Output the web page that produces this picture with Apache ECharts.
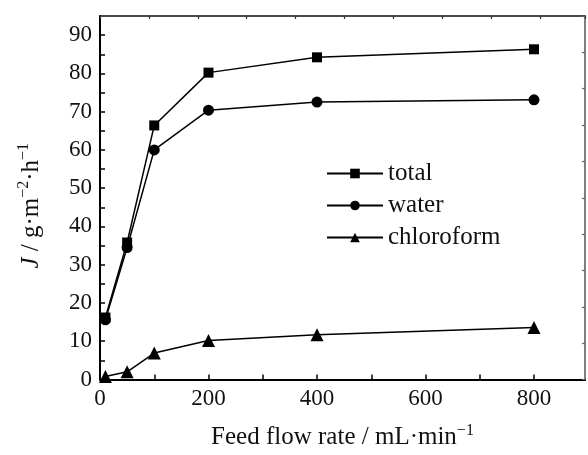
<!DOCTYPE html>
<html>
<head>
<meta charset="utf-8">
<script src="https://cdn.jsdelivr.net/npm/echarts@6/dist/echarts.min.js"></script>
<style>
  html, body { margin: 0; padding: 0; background: #fff; }
  #chart { width: 588px; height: 455px; }
</style>
</head>
<body>
<div id="chart"></div>
<script>
// Permeate flux versus feed flow rate
const flowRates = [10, 50, 100, 200, 400, 800];
const totalFlux = [16.2, 35.8, 66.4, 80.2, 84.2, 86.3];
const waterFlux = [15.6, 34.5, 60.0, 70.4, 72.5, 73.1];
const chloroformFlux = [0.8, 2.0, 6.9, 10.2, 11.7, 13.6];
const seriesNames = ['total', 'water', 'chloroform'];
const xTickLabels = [0, 200, 400, 600, 800];
const yTickLabels = [0, 10, 20, 30, 40, 50, 60, 70, 80, 90];

const FONT = 'Liberation Serif';
const INK = '#111';

const toPairs = (ys) => flowRates.map((x, i) => [x, ys[i]]);

const lineSeries = (name, values, symbol, size) => ({
  name,
  type: 'line',
  data: toPairs(values),
  symbol,
  symbolSize: size,
  showSymbol: true,
  xAxisIndex: 0,
  yAxisIndex: 0,
  lineStyle: { color: '#000', width: 1.5 },
  itemStyle: { color: '#000', borderWidth: 0 },
  emphasis: { disabled: true },
  animation: false
});

const chart = echarts.init(document.getElementById('chart'));
chart.setOption({
  backgroundColor: '#fff',
  animation: false,
  grid: { left: 100, right: 3, top: 16, bottom: 69 },
  legend: {
    orient: 'vertical',
    left: 326,
    top: 161,
    padding: 0,
    itemWidth: 56,
    itemHeight: 12,
    itemGap: 7,
    data: seriesNames,
    textStyle: { fontFamily: FONT, fontSize: 25, color: INK, lineHeight: 25 },
    selectedMode: false
  },
  xAxis: [
    {
      type: 'value',
      position: 'bottom',
      min: 0,
      max: 894,
      interval: 100,
      axisLine: { show: true, onZero: false, lineStyle: { color: '#000', width: 2 } },
      axisTick: { show: true, inside: true, length: 5, lineStyle: { color: '#000', width: 1.5 } },
      axisLabel: {
        show: true,
        margin: 8,
        showMaxLabel: false,
        fontFamily: FONT,
        fontSize: 23,
        color: INK,
        formatter: (v) => (xTickLabels.includes(v) ? String(v) : '')
      },
      splitLine: { show: false },
      name: 'Feed flow rate / mL·min{sup|−1}',
      nameLocation: 'middle',
      nameGap: 43,
      nameTextStyle: {
        fontFamily: FONT,
        fontSize: 25,
        color: INK,
        rich: {
          sup: { fontFamily: FONT, fontSize: 16, color: INK, padding: [0, 0, 14, 0] }
        }
      }
    },
    {
      type: 'value',
      position: 'top',
      min: 0,
      max: 9.92,
      interval: 1,
      axisLine: { show: true, onZero: false, lineStyle: { color: '#111', width: 1.5 } },
      axisTick: { show: true, inside: true, length: 3, lineStyle: { color: '#333', width: 1.2 } },
      axisLabel: { show: false },
      splitLine: { show: false }
    }
  ],
  yAxis: [
    {
      type: 'value',
      position: 'left',
      min: 0,
      max: 95,
      interval: 5,
      axisLine: { show: true, onZero: false, lineStyle: { color: '#000', width: 2 } },
      axisTick: { show: true, inside: true, length: 5, lineStyle: { color: '#000', width: 1.5 } },
      axisLabel: {
        show: true,
        margin: 8,
        showMaxLabel: false,
        fontFamily: FONT,
        fontSize: 23,
        color: INK,
        formatter: (v) => (yTickLabels.includes(v) ? String(v) : '')
      },
      splitLine: { show: false },
      name: '{i|J} / g·m{sup|−2}·h{sup|−1}',
      nameLocation: 'middle',
      nameRotate: 90,
      nameGap: 54,
      nameTextStyle: {
        fontFamily: FONT,
        fontSize: 25,
        color: INK,
        padding: [0, 16, 0, 0],
        rich: {
          i: { fontFamily: FONT, fontSize: 25, fontStyle: 'italic', color: INK },
          sup: { fontFamily: FONT, fontSize: 16, color: INK, padding: [0, 0, 14, 0] }
        }
      }
    },
    {
      type: 'value',
      position: 'right',
      min: 0,
      max: 10,
      interval: 1,
      axisLine: { show: true, onZero: false, lineStyle: { color: '#555', width: 1.5 } },
      axisTick: { show: true, inside: true, length: 3, lineStyle: { color: '#666', width: 1.2 } },
      axisLabel: { show: false },
      splitLine: { show: false }
    }
  ],
  series: [
    lineSeries(seriesNames[0], totalFlux, 'rect', 10),
    lineSeries(seriesNames[1], waterFlux, 'circle', 11),
    lineSeries(seriesNames[2], chloroformFlux, 'triangle', 13)
  ]
});
</script>
</body>
</html>
